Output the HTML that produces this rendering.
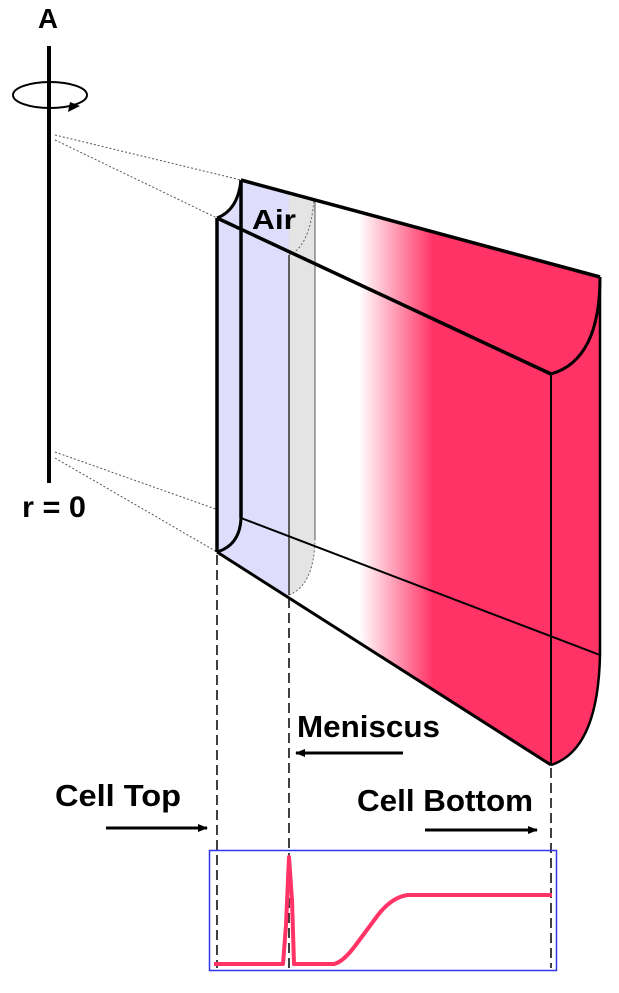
<!DOCTYPE html>
<html><head><style>
html,body{margin:0;padding:0;background:#fff;}
svg{display:block;}
text{font-family:"Liberation Sans Narrow","Liberation Sans",Arial,sans-serif;font-weight:bold;fill:#000;}
</style></head><body>
<svg width="619" height="993" viewBox="0 0 619 993" xmlns="http://www.w3.org/2000/svg">
<defs>
<linearGradient id="pg" x1="0" x2="619" y1="0" y2="0" gradientUnits="userSpaceOnUse">
<stop offset="0" stop-color="#fff"/>
<stop offset="0.58" stop-color="#fff"/>
<stop offset="0.70" stop-color="#FF3366"/>
<stop offset="1" stop-color="#FF3366"/>
</linearGradient>
<clipPath id="cl"><path d="M241,180 L600,277 L600,655 Q598,750 551,765 L217,552 L217,218 Q238,210 241,180 Z"/></clipPath>
<marker id="ah" markerWidth="10" markerHeight="8" refX="9" refY="4" orient="auto" markerUnits="userSpaceOnUse"><path d="M0,0 L10,4 L0,8 Z" fill="#000"/></marker>
</defs>
<!-- axis -->
<text x="38" y="28" font-size="28" textLength="20" lengthAdjust="spacingAndGlyphs">A</text>
<line x1="49" y1="46" x2="49" y2="483" stroke="#000" stroke-width="4"/>
<ellipse cx="50" cy="95" rx="37" ry="13" fill="none" stroke="#000" stroke-width="2"/>
<path d="M68,112 L80,106 L70,102 Z" fill="#000"/>
<text x="22" y="517" font-size="30" textLength="64" lengthAdjust="spacingAndGlyphs">r = 0</text>
<g stroke="#555" stroke-width="1" stroke-dasharray="2,2" fill="none">
<line x1="55" y1="135" x2="241" y2="180"/>
<line x1="55" y1="140" x2="217" y2="218"/>
<line x1="55" y1="452" x2="241" y2="518"/>
<line x1="55" y1="458" x2="217" y2="552"/>
</g>
<!-- body fill -->
<g clip-path="url(#cl)">
<rect x="200" y="160" width="419" height="640" fill="url(#pg)"/>
<rect x="200" y="160" width="89" height="640" fill="#DEDEFC"/>
<path d="M289,160 L315,160 L315,540 Q314,585 289,595 Z" fill="#E4E4E4"/>
<path d="M289,255 Q314,245 315,180" fill="none" stroke="#666" stroke-width="1" stroke-dasharray="2,2"/>
<path d="M289,595 Q314,585 315,540" fill="none" stroke="#666" stroke-width="1" stroke-dasharray="2,2"/>
<line x1="315" y1="180" x2="315" y2="540" stroke="#555" stroke-width="1"/>
</g>
<text x="252" y="229" font-size="28" textLength="44" lengthAdjust="spacingAndGlyphs">Air</text>
<line x1="289" y1="255" x2="289" y2="595" stroke="#333" stroke-width="1.5"/>
<!-- edges -->
<g stroke="#000" fill="none" stroke-linejoin="round">
<line x1="241" y1="180" x2="600" y2="277" stroke-width="3.5"/>
<line x1="217" y1="218" x2="551" y2="374" stroke-width="3.5"/>
<line x1="217" y1="218" x2="217" y2="552" stroke-width="3.5"/>
<line x1="241" y1="180" x2="241" y2="518" stroke-width="3.5"/>
<path d="M241,180 Q238,210 217,218" stroke-width="3"/>
<path d="M241,518 Q240,545 217,552" stroke-width="3"/>
<path d="M600,277 Q600,360 551,374" stroke-width="3"/>
<path d="M600,655 Q598,750 551,765" stroke-width="2.5"/>
<line x1="551" y1="374" x2="551" y2="765" stroke-width="2"/>
<line x1="600" y1="277" x2="600" y2="655" stroke-width="2.5"/>
<line x1="217" y1="552" x2="551" y2="765" stroke-width="3"/>
<line x1="241" y1="518" x2="600" y2="655" stroke-width="2"/>
</g>
<!-- dashed projection lines -->
<g stroke="#000" stroke-width="1.5" stroke-dasharray="10,5">
<line x1="217" y1="555" x2="217" y2="968"/>
<line x1="289" y1="598" x2="289" y2="968"/>
<line x1="551" y1="768" x2="551" y2="968"/>
</g>
<!-- labels -->
<text x="297" y="737" font-size="31" textLength="143" lengthAdjust="spacingAndGlyphs">Meniscus</text>
<line x1="403" y1="753" x2="296" y2="753" stroke="#000" stroke-width="3" marker-end="url(#ah)"/>
<text x="55" y="806" font-size="31" textLength="126" lengthAdjust="spacingAndGlyphs">Cell Top</text>
<line x1="106" y1="828" x2="207" y2="828" stroke="#000" stroke-width="3" marker-end="url(#ah)"/>
<text x="357" y="811" font-size="31" textLength="176" lengthAdjust="spacingAndGlyphs">Cell Bottom</text>
<line x1="425" y1="830" x2="537" y2="830" stroke="#000" stroke-width="3" marker-end="url(#ah)"/>
<!-- plot -->
<rect x="209.5" y="850.5" width="347" height="120" fill="none" stroke="#3333EE" stroke-width="1.5"/>
<path d="M214,964 L283,964 L286,925 L289,857 L292,900 L294,964 L334,964 Q343,962 355,946 L378,915 Q392,897 408,895 L552,895" fill="none" stroke="#FF3366" stroke-width="4" stroke-linejoin="round"/>
</svg>
</body></html>
